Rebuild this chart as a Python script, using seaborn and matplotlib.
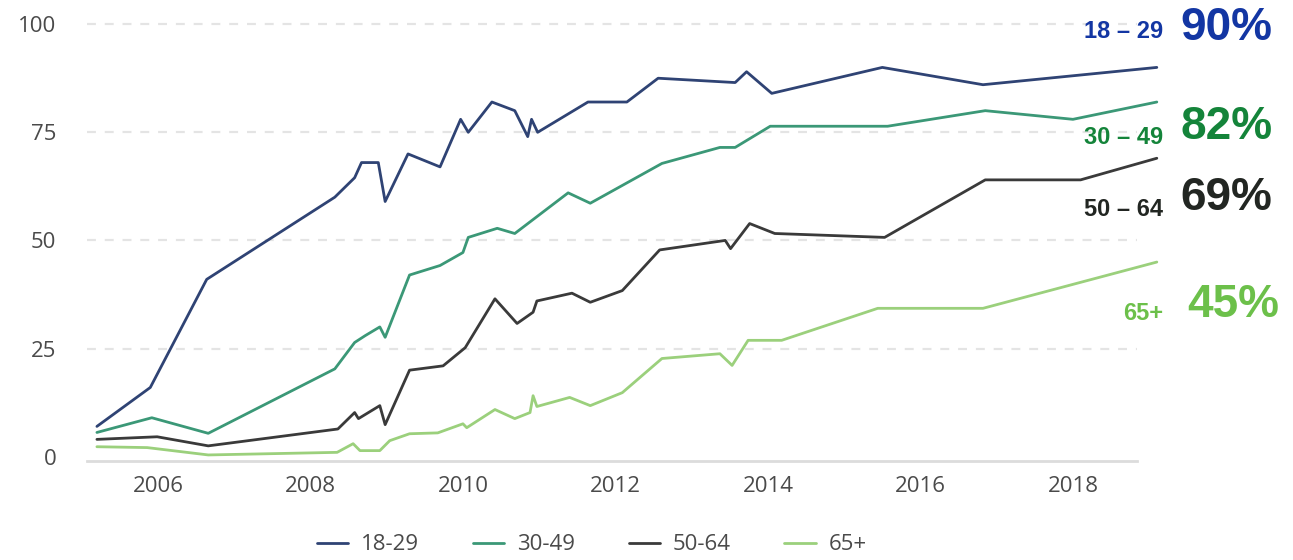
import matplotlib
matplotlib.use("Agg")
import matplotlib.pyplot as plt
import seaborn as sns
import pandas as pd

# Share of adults using social media, by age group (decimal survey dates)
groups = ["18-29", "30-49", "50-64", "65+"]
group_labels = ["18 – 29", "30 – 49", "50 – 64", "65+"]

x_18_29 = [2005.2, 2005.9, 2006.64, 2008.32, 2008.58, 2008.67, 2008.89, 2008.98,
           2009.28, 2009.7, 2009.97, 2010.07, 2010.38, 2010.68, 2010.85, 2010.9,
           2010.98, 2011.64, 2012.15, 2012.56, 2013.57, 2013.72, 2014.05, 2015.5,
           2016.82, 2019.1]
y_18_29 = [7, 16, 41, 60, 64.5, 68, 68, 59,
           70, 67, 78, 75, 82, 80, 74, 78,
           75, 82, 82, 87.5, 86.5, 89, 84, 90,
           86, 90]

x_30_49 = [2005.2, 2005.92, 2006.66, 2008.32, 2008.58, 2008.72, 2008.91, 2008.98,
           2009.3, 2009.7, 2010.0, 2010.07, 2010.45, 2010.68, 2011.38, 2011.67,
           2012.61, 2013.37, 2013.57, 2014.03, 2015.57, 2016.85, 2018.0, 2019.1]
y_30_49 = [5.6, 9, 5.4, 20.3, 26.4, 28, 30, 27.6,
           42, 44.2, 47.2, 50.7, 52.8, 51.6, 61, 58.6,
           67.8, 71.5, 71.5, 76.4, 76.4, 80, 78, 82]

x_50_64 = [2005.2, 2005.99, 2006.66, 2008.36, 2008.58, 2008.63, 2008.91, 2008.98,
           2009.3, 2009.74, 2010.03, 2010.42, 2010.71, 2010.92, 2010.97, 2011.43,
           2011.67, 2012.09, 2012.58, 2013.44, 2013.51, 2013.76, 2014.09, 2015.53,
           2016.85, 2018.1, 2019.1]
y_50_64 = [4, 4.6, 2.5, 6.4, 10.2, 8.8, 11.8, 7.4,
           20, 21, 25.2, 36.5, 30.8, 33.4, 36, 37.8,
           35.7, 38.4, 47.8, 50, 48.1, 53.9, 51.6, 50.7,
           64, 64, 69]

x_65 = [2005.2, 2005.86, 2006.66, 2008.35, 2008.56, 2008.65, 2008.91, 2009.04,
        2009.3, 2009.67, 2010.0, 2010.05, 2010.42, 2010.68, 2010.88, 2010.92,
        2010.97, 2011.4, 2011.67, 2012.09, 2012.61, 2013.37, 2013.53, 2013.74,
        2014.18, 2015.44, 2016.82, 2019.1]
y_65 = [2.3, 2.1, 0.4, 1, 3, 1.4, 1.4, 3.7,
        5.3, 5.5, 7.6, 6.7, 10.9, 8.8, 10.2, 14.1,
        11.6, 13.7, 11.8, 14.8, 22.7, 23.8, 21.1, 26.9,
        26.9, 34.3, 34.3, 45]

y_ticks = [0, 25, 50, 75, 100]
x_ticks = [2006, 2008, 2010, 2012, 2014, 2016, 2018]

series_x = [x_18_29, x_30_49, x_50_64, x_65]
series_y = [y_18_29, y_30_49, y_50_64, y_65]

frames = []
for g, xs, ys in zip(groups, series_x, series_y):
    frames.append(pd.DataFrame({"year": xs, "share": ys, "age": g}))
df = pd.concat(frames, ignore_index=True)

line_colors = ["#2f4374", "#3b9877", "#3a3a3a", "#9bd07c"]
label_colors = ["#1336a3", "#14843a", "#222622", "#6cc04a"]

sns.set_theme(style="white")
plt.rcParams["font.family"] = ["Open Sans", "DejaVu Sans"]

W, H = 1293, 560
fig = plt.figure(figsize=(W / 100, H / 100), dpi=100)
ax = fig.add_axes([87 / W, 1 - 461 / H, (1137 - 87) / W, (461 - 22) / H])

sns.lineplot(data=df, x="year", y="share", hue="age", hue_order=groups,
             palette=line_colors, estimator=None, sort=False, linewidth=2.0,
             clip_on=False, ax=ax)

ax.set_xlim(2005.07, 2018.84)
ax.set_ylim(-1, 100.5)
ax.set_xticks(x_ticks)
ax.set_yticks(y_ticks)
ax.set_xlabel("")
ax.set_ylabel("")
ax.tick_params(axis="both", length=0, labelsize=16, labelcolor="#4a4a4a")
ax.tick_params(axis="y", pad=22)
ax.tick_params(axis="x", pad=11)

ax.yaxis.grid(True, color="#e4e4e4", linewidth=1.6, linestyle=(0, (4, 4)))
ax.xaxis.grid(False)
ax.get_ygridlines()[0].set_visible(False)
for side in ["left", "right", "top"]:
    ax.spines[side].set_visible(False)
ax.spines["bottom"].set_color("#dcdcdc")
ax.spines["bottom"].set_linewidth(2.0)

# Legend along the bottom
handles, labels = ax.get_legend_handles_labels()
ax.get_legend().remove()
fig.legend(handles, labels, loc="center", bbox_to_anchor=(592 / W, 1 - 545 / H),
           ncol=4, frameon=False, fontsize=16, labelcolor="#4a4a4a",
           handlelength=1.4, handletextpad=0.6, columnspacing=2.4,
           borderpad=0.0)

# End-of-line callouts: group name and latest share
label_rows = [32, 137, 209, 314]
value_rows = [28, 127, 198, 305]
for i, g in enumerate(group_labels):
    fig.text(1163 / W, 1 - label_rows[i] / H, g, ha="right", va="center",
             fontsize=17, fontweight="bold", color=label_colors[i],
             family="Liberation Sans")
    fig.text(1180 / W if i < 3 else 1187 / W, 1 - value_rows[i] / H,
             f"{series_y[i][-1]:.0f}%", ha="left", va="center",
             fontsize=33, fontweight="bold", color=label_colors[i],
             family="Liberation Sans")

fig.savefig("out.png", dpi=100)
